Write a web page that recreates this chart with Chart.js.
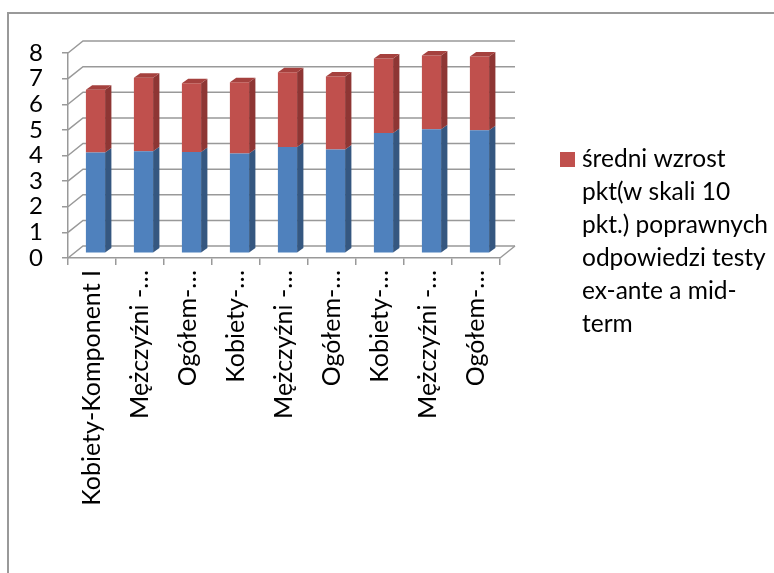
<!DOCTYPE html>
<html>
<head>
<meta charset="utf-8">
<script src="https://cdn.jsdelivr.net/npm/chart.js@4"></script>
<style>
  html, body { margin: 0; padding: 0; background: #fff; overflow: hidden; }
  #wrap { position: relative; width: 774px; height: 573px; overflow: hidden; }
  /* ramka wykresu - obcięta z prawej i z dołu */
  #ramka { position: absolute; left: 7px; top: 12px; width: 800px; height: 600px;
           border-left: 2px solid #999; border-top: 2px solid #999; }
  canvas { position: absolute; left: 0; top: 0; }
</style>
</head>
<body>
<div id="wrap">
  <div id="ramka"></div>
  <canvas id="wykres" width="774" height="573"></canvas>
</div>
<script>
// kategorie na osi X (tak jak są obcięte na obrazku)
var kategorie = [
  "Kobiety-Komponent I", "Mężczyźni -…", "Ogółem-…",
  "Kobiety-…", "Mężczyźni -…", "Ogółem-…",
  "Kobiety-…", "Mężczyźni -…", "Ogółem-…"
];
// niebieska część słupka (nie ma jej w legendzie)
var wynikBazowy = [3.93, 3.98, 3.95, 3.89, 4.15, 4.05, 4.69, 4.84, 4.80];
// czerwona część słupka
var sredniWzrost = [2.45, 2.87, 2.69, 2.79, 2.92, 2.85, 2.91, 2.88, 2.88];
var etykietaWzrostu = "średni wzrost pkt(w skali 10 pkt.) poprawnych odpowiedzi testy ex-ante a mid-term";
// linie legendy, tak jak są złamane na obrazku
var linieLegendy = ["średni wzrost", "pkt(w skali 10", "pkt.) poprawnych", "odpowiedzi testy", "ex-ante a mid-", "term"];
var osYmin = 0;
var osYmax = 8;

var kolorSiatki = "#999";
var czcionka = "Lato, 'Noto Sans', sans-serif";

// przesunięcia "3D"
var glebiaSciany = { x: 15, y: -12 };
var przesuniecieSlupkow = { x: 3.5, y: -4.7 };
var bokSlupka = { x: 6.3, y: -4.5 };
var kolorBoku = ["#355780", "#8e3634"];
var kolorGory = "#a5413e";

var wykres3d = {
  id: "wykres3d",
  beforeDatasetsDraw: function(chart) {
    var ctx = chart.ctx;
    var a = chart.chartArea;
    var skalaY = chart.scales.y;
    ctx.save();
    ctx.strokeStyle = kolorSiatki;
    ctx.lineWidth = 1.5;
    // tylna ściana + lewa ściana
    skalaY.ticks.forEach(function(t) {
      var py = skalaY.getPixelForValue(t.value);
      ctx.beginPath();
      ctx.moveTo(a.left, py);
      ctx.lineTo(a.left + glebiaSciany.x, py + glebiaSciany.y);
      ctx.lineTo(a.right + glebiaSciany.x, py + glebiaSciany.y);
      ctx.stroke();
    });
    // prawa krawędź podłogi
    ctx.beginPath();
    ctx.moveTo(a.right, a.bottom);
    ctx.lineTo(a.right + glebiaSciany.x, a.bottom + glebiaSciany.y);
    ctx.stroke();
    ctx.restore();
    // słupki stoją trochę w głębi
    ctx.save();
    ctx.translate(przesuniecieSlupkow.x, przesuniecieSlupkow.y);
  },
  afterDatasetsDraw: function(chart) {
    var ctx = chart.ctx;
    var ostatni = chart.data.datasets.length - 1;
    chart.data.datasets.forEach(function(ds, i) {
      var meta = chart.getDatasetMeta(i);
      meta.data.forEach(function(el) {
        var p = el.getProps(["x", "y", "base", "width"], true);
        var prawa = p.x + p.width / 2;
        var lewa = p.x - p.width / 2;
        var gora = Math.min(p.y, p.base);
        var dol = Math.max(p.y, p.base);
        // bok
        ctx.fillStyle = kolorBoku[i];
        ctx.beginPath();
        ctx.moveTo(prawa, dol);
        ctx.lineTo(prawa, gora);
        ctx.lineTo(prawa + bokSlupka.x, gora + bokSlupka.y);
        ctx.lineTo(prawa + bokSlupka.x, dol + bokSlupka.y);
        ctx.closePath();
        ctx.fill();
        // wierzch tylko na najwyższym kawałku
        if (i === ostatni) {
          ctx.fillStyle = kolorGory;
          ctx.beginPath();
          ctx.moveTo(lewa, gora);
          ctx.lineTo(lewa + bokSlupka.x, gora + bokSlupka.y);
          ctx.lineTo(prawa + bokSlupka.x, gora + bokSlupka.y);
          ctx.lineTo(prawa, gora);
          ctx.closePath();
          ctx.fill();
        }
      });
    });
    ctx.restore();
  },
  afterDraw: function(chart) {
    // legenda tylko dla czerwonej serii, z łamaniem linii
    var ctx = chart.ctx;
    var ds = chart.data.datasets[1];
    ctx.save();
    ctx.fillStyle = ds.backgroundColor;
    ctx.fillRect(560, 152, 15, 15);
    ctx.fillStyle = "#000";
    ctx.font = "24.5px " + czcionka;
    ctx.textBaseline = "alphabetic";
    ctx.textAlign = "left";
    for (var i = 0; i < linieLegendy.length; i++) {
      ctx.fillText(linieLegendy[i], 582, 167 + i * 33);
    }
    ctx.restore();
  }
};

new Chart(document.getElementById("wykres"), {
  type: "bar",
  data: {
    labels: kategorie,
    datasets: [{
      label: "",
      data: wynikBazowy,
      backgroundColor: "#4f81bd",
      barPercentage: 0.4,
      categoryPercentage: 1,
      clip: false
    }, {
      label: etykietaWzrostu,
      data: sredniWzrost,
      backgroundColor: "#c0504d",
      barPercentage: 0.4,
      categoryPercentage: 1,
      clip: false
    }]
  },
  options: {
    responsive: false,
    animation: false,
    devicePixelRatio: 1,
    layout: { padding: { left: 0, top: 53, right: 274, bottom: 0 } },
    plugins: {
      legend: { display: false },
      tooltip: { enabled: false }
    },
    scales: {
      x: {
        stacked: true,
        grid: { drawOnChartArea: false, drawTicks: true, tickLength: 7, color: kolorSiatki, lineWidth: 1.5, offset: true },
        border: { display: true, color: kolorSiatki, width: 1.5 },
        ticks: {
          autoSkip: false, minRotation: 90, maxRotation: 90, padding: 5,
          color: "#000", font: { family: czcionka, size: 25 }
        },
        afterFit: function(scale) { scale.height = 315; }
      },
      y: {
        stacked: true,
        min: osYmin,
        max: osYmax,
        grid: { drawOnChartArea: false, drawTicks: true, tickLength: 6, color: kolorSiatki, lineWidth: 1.5 },
        border: { display: true, color: kolorSiatki, width: 1.5 },
        ticks: {
          stepSize: 1, autoSkip: false, padding: 19,
          color: "#000", font: { family: czcionka, size: 24 }
        },
        afterFit: function(scale) { scale.width = 68; }
      }
    }
  },
  plugins: [wykres3d]
});
</script>
</body>
</html>
